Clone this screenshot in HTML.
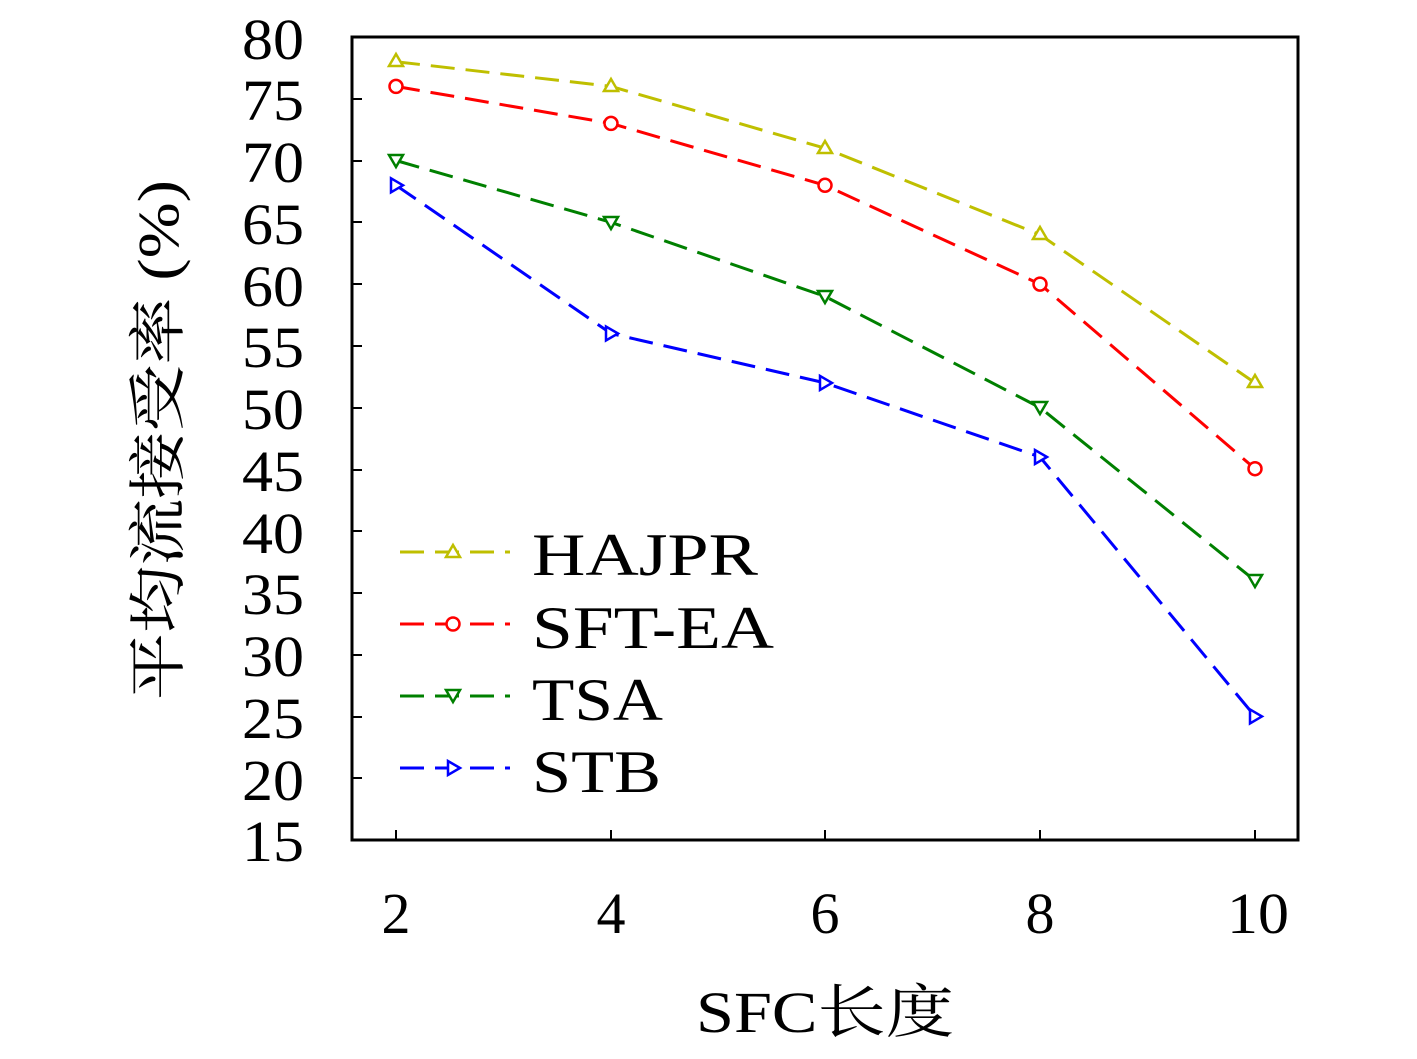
<!DOCTYPE html>
<html><head><meta charset="utf-8"><style>body{margin:0;background:#fff}</style></head><body>
<svg width="1417" height="1054" xmlns="http://www.w3.org/2000/svg" font-family="'Liberation Serif','Noto Serif CJK SC',serif">
<rect width="1417" height="1054" fill="#fff"/>
<g stroke="#000" stroke-width="2">
<line x1="396" y1="840" x2="396" y2="830"/><line x1="611" y1="840" x2="611" y2="830"/><line x1="825" y1="840" x2="825" y2="830"/><line x1="1040" y1="840" x2="1040" y2="830"/><line x1="1255" y1="840" x2="1255" y2="830"/>
<line x1="352" y1="37" x2="362" y2="37"/><line x1="352" y1="99" x2="362" y2="99"/><line x1="352" y1="161" x2="362" y2="161"/><line x1="352" y1="222" x2="362" y2="222"/><line x1="352" y1="284" x2="362" y2="284"/><line x1="352" y1="346" x2="362" y2="346"/><line x1="352" y1="408" x2="362" y2="408"/><line x1="352" y1="470" x2="362" y2="470"/><line x1="352" y1="531" x2="362" y2="531"/><line x1="352" y1="593" x2="362" y2="593"/><line x1="352" y1="655" x2="362" y2="655"/><line x1="352" y1="717" x2="362" y2="717"/><line x1="352" y1="778" x2="362" y2="778"/><line x1="352" y1="840" x2="362" y2="840"/>
</g>
<g font-size="58" text-anchor="end">
<text x="304" y="59" textLength="62" lengthAdjust="spacingAndGlyphs">80</text><text x="304" y="120" textLength="62" lengthAdjust="spacingAndGlyphs">75</text><text x="304" y="182" textLength="62" lengthAdjust="spacingAndGlyphs">70</text><text x="304" y="244" textLength="62" lengthAdjust="spacingAndGlyphs">65</text><text x="304" y="306" textLength="62" lengthAdjust="spacingAndGlyphs">60</text><text x="304" y="367" textLength="62" lengthAdjust="spacingAndGlyphs">55</text><text x="304" y="429" textLength="62" lengthAdjust="spacingAndGlyphs">50</text><text x="304" y="491" textLength="62" lengthAdjust="spacingAndGlyphs">45</text><text x="304" y="553" textLength="62" lengthAdjust="spacingAndGlyphs">40</text><text x="304" y="614" textLength="62" lengthAdjust="spacingAndGlyphs">35</text><text x="304" y="676" textLength="62" lengthAdjust="spacingAndGlyphs">30</text><text x="304" y="738" textLength="62" lengthAdjust="spacingAndGlyphs">25</text><text x="304" y="800" textLength="62" lengthAdjust="spacingAndGlyphs">20</text><text x="304" y="861" textLength="62" lengthAdjust="spacingAndGlyphs">15</text>
</g>
<g font-size="58" text-anchor="middle">
<text x="396" y="933">2</text><text x="611" y="933">4</text><text x="825" y="933">6</text><text x="1040" y="933">8</text><text x="1258" y="933" textLength="62" lengthAdjust="spacingAndGlyphs">10</text>
<text x="825" y="1032" textLength="258" lengthAdjust="spacingAndGlyphs">SFC长度</text>
<text transform="translate(178,440) rotate(-90)" textLength="520" lengthAdjust="spacingAndGlyphs">平均流接受率 (%)</text>
</g>
<g fill="none" stroke-width="3" stroke-dasharray="24,11">
<polyline stroke="#bfbf00" points="396,61.7 611,86.4 825,148.2 1040,234.7 1255,382.9"/>
<polyline stroke="#ff0000" points="396,86.4 611,123.4 825,185.3 1040,284.1 1255,468.7"/>
<polyline stroke="#008000" points="396,160.5 611,222.3 825,296.4 1040,407.6 1255,580.6"/>
<polyline stroke="#0000ff" points="396,185.3 611,333.5 825,382.9 1040,457.0 1255,716.4"/>
</g>
<g fill="#fff" stroke-width="2.5">
<g stroke="#bfbf00"><path d="M396,54 l7,12 h-14z"/><path d="M611,79 l7,12 h-14z"/><path d="M825,141 l7,12 h-14z"/><path d="M1040,227 l7,12 h-14z"/><path d="M1255,375 l7,12 h-14z"/></g>
<g stroke="#ff0000"><circle cx="396" cy="86.4" r="6.5"/><circle cx="611" cy="123.4" r="6.5"/><circle cx="825" cy="185.3" r="6.5"/><circle cx="1040" cy="284.1" r="6.5"/><circle cx="1255" cy="468.7" r="6.5"/></g>
<g stroke="#008000"><path d="M396,167 l7,-12 h-14z"/><path d="M611,229 l7,-12 h-14z"/><path d="M825,303 l7,-12 h-14z"/><path d="M1040,414 l7,-12 h-14z"/><path d="M1255,587 l7,-12 h-14z"/></g>
<g stroke="#0000ff"><path d="M403,185.3 l-12,-7 v14z"/><path d="M618,333.5 l-12,-7 v14z"/><path d="M832,382.9 l-12,-7 v14z"/><path d="M1047,457 l-12,-7 v14z"/><path d="M1262,716.4 l-12,-7 v14z"/></g>
</g>
<g stroke-width="3" stroke-dasharray="24,11">
<line x1="400" y1="552" x2="510" y2="552" stroke="#bfbf00"/>
<line x1="400" y1="624" x2="510" y2="624" stroke="#ff0000"/>
<line x1="400" y1="696" x2="510" y2="696" stroke="#008000"/>
<line x1="400" y1="768" x2="510" y2="768" stroke="#0000ff"/>
</g>
<g fill="#fff" stroke-width="2.5">
<path d="M453,545 l7,12 h-14z" stroke="#bfbf00"/>
<circle cx="453" cy="624" r="6.5" stroke="#ff0000"/>
<path d="M453,702 l7,-12 h-14z" stroke="#008000"/>
<path d="M460,768 l-12,-7 v14z" stroke="#0000ff"/>
</g>
<g font-size="60">
<text x="532" y="575" textLength="226" lengthAdjust="spacingAndGlyphs">HAJPR</text><text x="532" y="648" textLength="242" lengthAdjust="spacingAndGlyphs">SFT-EA</text><text x="532" y="720" textLength="131" lengthAdjust="spacingAndGlyphs">TSA</text><text x="532" y="792" textLength="129" lengthAdjust="spacingAndGlyphs">STB</text>
</g>
<rect x="352" y="37" width="946" height="803" fill="none" stroke="#000" stroke-width="3"/>
</svg>
</body></html>
